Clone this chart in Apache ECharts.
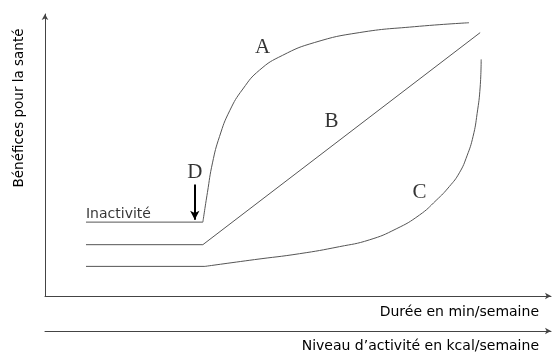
<!DOCTYPE html>
<html><head><meta charset="utf-8">
<script src="https://cdn.jsdelivr.net/npm/echarts@6/dist/echarts.min.js"></script>
<style>html,body{margin:0;padding:0;background:#fff}#c{width:552px;height:353px}</style>
</head><body><div id="c"></div>
<script>
// Curve A (flat "inactivité" level then rapid rise)
const aFlat = [[8.1,26.2],[31.2,26.2]];
const aRise = [[31.2,26.2],[32.1,36.7],[33.1,47.2],[34.5,56.6],[36.5,65.7],[39.1,73.4],[42.4,80.1],[46.9,85.3],[53.3,89.9],[62.1,93.4],[73.0,95.5],[83.8,96.9]];
// Curve B (linear)
const bLine = [[8.1,18.2],[31.2,18.2],[86.0,93.4]];
// Curve C (slow then steep)
const cFlat = [[8.1,10.5],[31.6,10.5]];
const cRise = [[31.6,10.5],[41.4,12.9],[50.3,15.0],[58.2,17.5],[64.1,19.9],[69.4,23.8],[74.0,28.7],[77.3,33.9],[79.9,38.8],[81.9,43.7],[83.4,49.7],[84.6,56.6],[85.4,64.7],[86.0,74.1],[86.2,83.9]];
// Letter labels
const letterLabels = [
  {name:'A', value:[43.0,88.1]},
  {name:'B', value:[56.6,61.9]},
  {name:'C', value:[74.0,36.7]},
  {name:'D', value:[29.6,43.7]}
];
const inactLabel = {name:'Inactivité', value:[8.1,29.0]};
const arrowD = [[29.6,39.5],[29.6,27.0]];
const yTitle = 'Bénéfices pour la santé';
const xTitle1 = 'Durée en min/semaine';
const xTitle2 = 'Niveau d\u2019activité en kcal/semaine';

const lineCol = '#555';
const sansFont = 'DejaVu Sans';
const chart = echarts.init(document.getElementById('c'), null, {renderer:'canvas'});
function curve(data, smooth){
  return {type:'line', data:data, smooth:smooth, symbol:'none', silent:true,
    lineStyle:{color:lineCol, width:1}, animation:false};
}
chart.setOption({
  animation:false,
  grid:{left:45, right:1, top:14, bottom:53},
  xAxis:[
    {type:'value', min:0, max:100, position:'bottom',
     axisLine:{show:true, symbol:['none','arrow'], symbolSize:[5,6], lineStyle:{color:'#444', width:1}},
     axisTick:{show:false}, axisLabel:{show:false}, splitLine:{show:false},
     name:xTitle1, nameLocation:'end', nameGap:-12,
     nameTextStyle:{align:'right', verticalAlign:'top', padding:[9,0,0,0], fontFamily:sansFont, fontSize:14, color:'#000'}},
    {type:'value', min:0, max:100, position:'bottom', offset:35,
     axisLine:{show:true, symbol:['none','arrow'], symbolSize:[5,6], lineStyle:{color:'#444', width:1}},
     axisTick:{show:false}, axisLabel:{show:false}, splitLine:{show:false},
     name:xTitle2, nameLocation:'end', nameGap:-12,
     nameTextStyle:{align:'right', verticalAlign:'top', padding:[8,0,0,0], fontFamily:sansFont, fontSize:14, color:'#000'}}
  ],
  yAxis:{type:'value', min:0, max:100,
     axisLine:{show:true, symbol:['none','arrow'], symbolSize:[5,6], lineStyle:{color:'#444', width:1}},
     axisTick:{show:false}, axisLabel:{show:false}, splitLine:{show:false}},
  graphic:[{type:'text', x:19, y:108, rotation:Math.PI/2,
    style:{text:yTitle, align:'center', verticalAlign:'middle', fontFamily:sansFont, fontSize:13.5, fill:'#000'}}],
  series:[
    curve(aFlat,false), curve(aRise,0.5), curve(bLine,false), curve(cFlat,false), curve(cRise,0.5),
    {type:'scatter', data:letterLabels, symbolSize:0, silent:true,
     label:{show:true, position:'inside', formatter:'{b}', fontFamily:'Liberation Serif', fontSize:21, color:'#000'}},
    {type:'scatter', data:[inactLabel], symbolSize:0, silent:true,
     label:{show:true, position:'right', distance:0, formatter:'{b}', fontFamily:sansFont, fontSize:14, color:'#000'}},
    {type:'line', data:[], symbol:'none',
     markLine:{silent:true, symbol:['none','arrow'], symbolSize:[7,9], label:{show:false},
       lineStyle:{color:'#000', width:2, type:'solid'},
       data:[[{coord:arrowD[0]},{coord:arrowD[1]}]]}}
  ]
});
</script></body></html>
